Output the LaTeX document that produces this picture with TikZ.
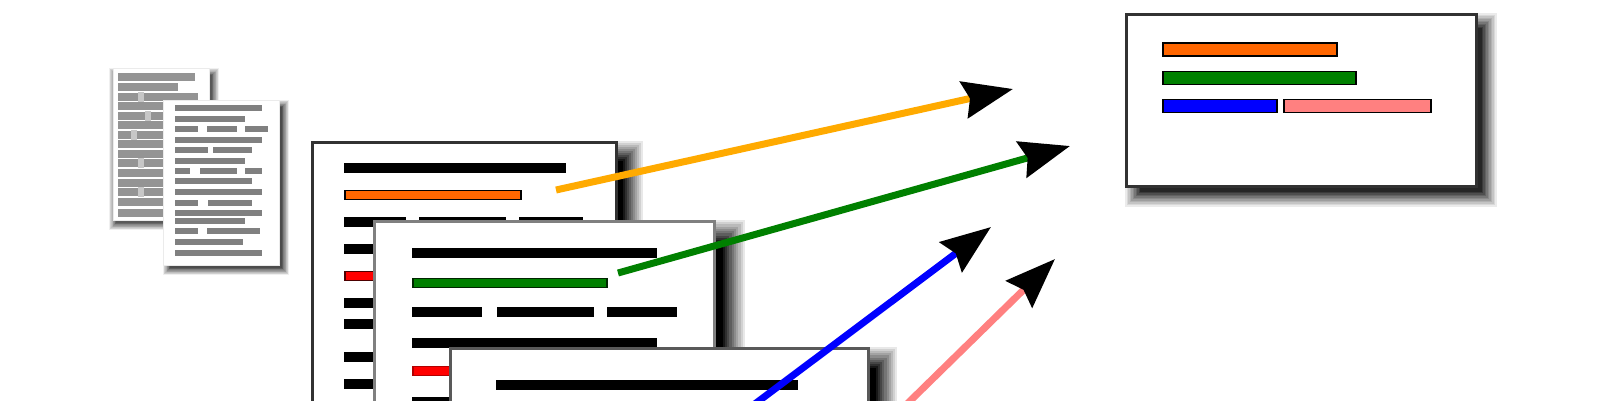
\documentclass[tikz,border=0pt]{standalone}
\usepackage{xcolor}
\usepackage{tikz}
\usetikzlibrary{arrows.meta, positioning}
\definecolor{myorange}{RGB}{255,102,0}
\definecolor{myamber}{RGB}{255,170,0}
\definecolor{mygreen}{RGB}{0,128,0}
\definecolor{myblue}{RGB}{0,0,255}
\definecolor{mypink}{RGB}{255,128,128}
\definecolor{myred}{RGB}{255,0,0}
\definecolor{myframe}{RGB}{50,50,50}
\tikzset{
  page/.style={rectangle, draw=myframe, fill=white, anchor=north west,
    inner sep=0pt, line width=2.5pt},
  textbar/.style={draw=black, fill=black, line width=1.5pt},
  iconbar/.style={fill=black!50},
  backbar/.style={fill=black!42},
  arrow/.style={line width=7pt, -{Stealth[length=50pt, width=37pt, inset=6pt, black]}}
}
% page shadow: colour, x1, y1, x2, y2, blur
\newcommand{\softshadow}[6][black]{
  \foreach \layer in {0,...,10} {
    \pgfmathsetmacro{\grow}{#6*(1-1.4*\layer/10)}
    \pgfmathsetmacro{\alphaval}{1/(11-\layer)}
    \fill[#1, fill opacity=\alphaval]
      (#2+#6-\grow, #3+#6-\grow) rectangle (#4+#6+\grow, #5+#6+\grow);
  }
}
\newcommand{\docbar}[4][textbar]{\draw[#1] (#2,#3-4.5) rectangle (#4,#3+4.5);}
\begin{document}
\begin{tikzpicture}[x=1pt, y=-1pt]
  \useasboundingbox (0,0) rectangle (1600,400);
  \clip (0,0) rectangle (1600,400);

  % Small pages (left side)
  \softshadow[black!65]{109}{68}{209}{220}{5}
  \node[page, draw=black!8, line width=1pt, minimum width=96pt, minimum height=152pt] (iconback) at (113,68) {};
  \foreach \y/\xb in {77/195, 87/178, 97/198, 106/190, 116/198, 125/195, 135/190, 144/198, 154/190, 163/195, 173/190, 183/195, 192/190, 202/195, 213/190} {
    \fill[backbar] (118,\y-4) rectangle (\xb,\y+4);
  }
  \foreach \x/\y in {141/97, 148/116, 134/135, 141/163, 141/192} {
    \fill[black!22] (\x-3,\y-5) rectangle (\x+3,\y+5);
  }
  \softshadow[black!70]{163}{100}{279}{265}{5}
  \node[page, draw=black!8, line width=1pt, minimum width=116pt, minimum height=165pt] (iconfront) at (163,100) {};
  \foreach \y/\xa/\xb in {108/175/262, 119/175/245, 129/175/198, 129/207/237, 129/245/268,
    140/175/262, 150/175/208, 150/213/252, 161/175/245, 171/175/190, 171/200/237, 171/245/262,
    181/175/252, 192/175/262, 203/175/198, 203/208/252, 213/175/262, 221/175/245,
    231/175/198, 231/207/260, 242/175/243, 253/175/262} {
    \fill[iconbar] (\xa,\y-3) rectangle (\xb,\y+3);
  }

  % First document
  \softshadow{311}{141}{615}{520}{14}
  \node[page, minimum width=304pt, minimum height=380pt] (docA) at (311,141) {};
  \docbar{345}{168}{565}
  \docbar[textbar, fill=myorange]{345}{195}{521}
  \docbar{345}{222}{405}
  \docbar{420}{222}{505}
  \docbar{520}{222}{582}
  \docbar{345}{249}{400}
  \docbar[textbar, draw=black!70!myred, fill=myred]{345}{276}{400}
  \docbar{345}{303}{400}
  \docbar{345}{324}{400}
  \docbar{345}{357}{400}
  \docbar{345}{384}{400}

  % Second document
  \softshadow{373}{220}{713}{540}{16}
  \node[page, draw=black!50, minimum width=340pt, minimum height=320pt] (docB) at (373,220) {};
  \docbar{413}{253}{656}
  \docbar[textbar, draw=black!70!mygreen, fill=mygreen]{413}{283}{607}
  \docbar{413}{312}{481}
  \docbar{498}{312}{593}
  \docbar{608}{312}{676}
  \docbar{413}{343}{656}
  \docbar[textbar, draw=black!30!myred, fill=myred]{413}{371}{470}
  \docbar{413}{402}{470}

  % Third document
  \softshadow{449}{347}{867}{560}{15}
  \node[page, draw=black!65, minimum width=418pt, minimum height=213pt] (docC) at (449,347) {};
  \docbar{497}{385}{797}

  % Merged document (right side)
  \softshadow[black!85]{1125}{13}{1475}{185}{11}
  \node[page, minimum width=350pt, minimum height=172pt] (merged) at (1125,13) {};
  \draw[textbar, fill=myorange] (1163,43) rectangle (1337,56);
  \draw[textbar, fill=mygreen] (1163,71.5) rectangle (1356,84.5);
  \draw[textbar, fill=myblue] (1163,99.5) rectangle (1277,112.5);
  \draw[textbar, fill=mypink] (1284,99.5) rectangle (1431,112.5);

  % Arrows
  \coordinate (orangestart) at (556,190);
  \coordinate (orangeend) at (1013,89);
  \coordinate (greenstart) at (618,273);
  \coordinate (greenend) at (1070,146);
  \coordinate (bluestart) at (680,460);
  \coordinate (blueend) at (991,227);
  \coordinate (pinkstart) at (860,450);
  \coordinate (pinkend) at (1055,259);
  \draw[arrow, color=myamber] (orangestart) -- (orangeend);
  \draw[arrow, color=mygreen] (greenstart) -- (greenend);
  \draw[arrow, color=myblue] (bluestart) -- (blueend);
  \draw[arrow, color=mypink] (pinkstart) -- (pinkend);
\end{tikzpicture}
\end{document}
